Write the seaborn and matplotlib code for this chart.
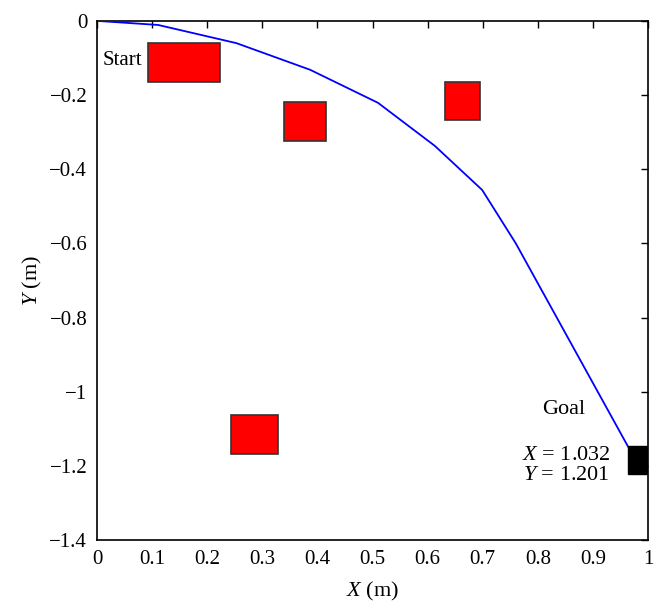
import numpy as np
import pandas as pd
import matplotlib
matplotlib.use('Agg')
import matplotlib.pyplot as plt
import seaborn as sns
from matplotlib.patches import Rectangle

# path of the robot
path_x = [0.0, 0.111, 0.253, 0.387, 0.51, 0.613, 0.699, 0.76, 0.964]
path_y = [0.0, -0.011, -0.060, -0.132, -0.221, -0.337, -0.456, -0.60, -1.149]

# obstacles: x0, x1, y0, y1
obs_x0 = [0.093, 0.339, 0.632, 0.243]
obs_x1 = [0.224, 0.415, 0.695, 0.328]
obs_y0 = [-0.164, -0.323, -0.267, -1.168]
obs_y1 = [-0.059, -0.218, -0.165, -1.063]

# goal block
goal_x = [0.964, 0.998]
goal_y = [-1.222, -1.146]

xticks = np.round(np.arange(0, 1.01, 0.1), 1)
yticks = np.round(np.arange(-1.4, 0.01, 0.2), 1)

sns.set_style('white')
plt.rcParams['font.family'] = ['Liberation Serif', 'DejaVu Serif']
plt.rcParams['mathtext.fontset'] = 'custom'
plt.rcParams['mathtext.rm'] = 'Liberation Serif'
plt.rcParams['mathtext.it'] = 'Liberation Serif:italic'
plt.rcParams['text.color'] = 'black'
plt.rcParams['axes.labelcolor'] = 'black'
plt.rcParams['xtick.color'] = 'black'
plt.rcParams['ytick.color'] = 'black'

fig = plt.figure(figsize=(6.64, 6.14), dpi=100)
ax = fig.add_axes([0.146, 0.1205, 0.83, 0.8455])

df = pd.DataFrame({'x': path_x, 'y': path_y})
sns.lineplot(data=df, x='x', y='y', sort=False, color='#0000ff', lw=1.3, ax=ax, zorder=3)

for a, b, c, d in zip(obs_x0, obs_x1, obs_y0, obs_y1):
    ax.add_patch(Rectangle((a, c), b - a, d - c, facecolor='#ff0000',
                           edgecolor='#333333', lw=1.2, zorder=2))
ax.add_patch(Rectangle((goal_x[0], goal_y[0]), goal_x[1] - goal_x[0],
                       goal_y[1] - goal_y[0], facecolor='black', edgecolor='black', zorder=4))

ax.text(0.083, -0.108, 'Start', ha='right', va='center', fontsize=15)
ax.text(0.847, -1.049, 'Goal', ha='center', va='center', fontsize=16)
ax.text(0.851, -1.171, r'$\mathit{X}$ = 1.032', ha='center', va='center', fontsize=16)
ax.text(0.851, -1.225, r'$\mathit{Y}$ = 1.201', ha='center', va='center', fontsize=16)

ax.set_xlim(0, 1)
ax.set_ylim(-1.4, 0)
ax.set_xticks(xticks)
ax.set_xticklabels(['0', '0.1', '0.2', '0.3', '0.4', '0.5', '0.6', '0.7', '0.8', '0.9', '1'])
ax.set_yticks(yticks)
ax.set_yticklabels(['\u22121.4', '\u22121.2', '\u22121', '\u22120.8', '\u22120.6', '\u22120.4', '\u22120.2', '0'])
ax.tick_params(direction='in', top=True, right=True, length=5, width=1, labelsize=15, pad=7)
for s in ax.spines.values():
    s.set_linewidth(1.2)
    s.set_color('black')

ax.set_xlabel(r'$\mathit{X}$ (m)', fontsize=16, labelpad=8)
ax.set_ylabel(r'$\mathit{Y}$ (m)', fontsize=16, labelpad=4)

fig.savefig('out.png', dpi=100)
